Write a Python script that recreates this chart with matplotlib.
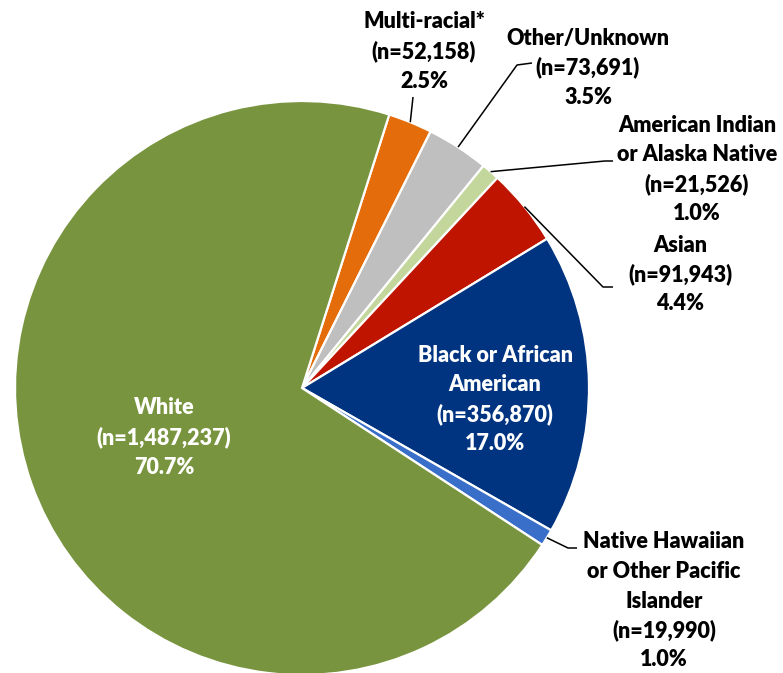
import numpy as np
import matplotlib.pyplot as plt

categories = ["Multi-racial*", "Other/Unknown", "American Indian\nor Alaska Native",
              "Asian", "Black or African\nAmerican", "Native Hawaiian\nor Other Pacific\nIslander",
              "White"]
counts = [52158, 73691, 21526, 91943, 356870, 19990, 1487237]
colors = ["#E46C0A", "#BFBFBF", "#C3D69B", "#BE1400", "#003380", "#3A6FC9", "#78943E"]

W, H = 783, 673
cx, cy, R = 302, 388, 287          # pie centre / radius in pixels (y from top)

# label block: (x centre, first line y, text colour) in pixels
label_pos = [(424, 22, "black"), (588, 38, "black"), (697, 125, "black"),
             (680, 245, "black"), (495, 355, "white"), (664, 542, "black"),
             (164, 408, "white")]
# leader lines: elbow points after the wedge edge (pixels), None = no line
leaders = [[(413, 97)], [(517, 65), (532, 63)], [(605, 161), (613, 161)],
           [(603, 287), (613, 287)], None, [(568, 548), (577, 548)], None]

plt.rcParams["font.family"] = ["Lato", "DejaVu Sans"]

fig = plt.figure(figsize=(W / 100, H / 100), dpi=100)
ax = fig.add_axes([0, 0, 1, 1])

total = sum(counts)
startangle = 90 - 17.7
wedges, _ = ax.pie(counts, colors=colors, startangle=startangle, counterclock=False,
                   center=(cx, H - cy), radius=R,
                   wedgeprops=dict(edgecolor="white", linewidth=1.6))
ax.set_xlim(0, W)
ax.set_ylim(0, H)
ax.set_aspect("equal")
ax.axis("off")

step = 29.5
for i, (cat, n) in enumerate(zip(categories, counts)):
    pct = n / total * 100
    lines = cat.split("\n") + [f"(n={n:,})", f"{pct:.1f}%"]
    x, y0, col = label_pos[i]
    for j, line in enumerate(lines):
        ax.text(x, H - (y0 + j * step), line, ha="center", va="center",
                fontsize=15.5, fontweight="heavy", color=col)
    if leaders[i] is not None:
        w = wedges[i]
        mid = np.deg2rad((w.theta1 + w.theta2) / 2)
        sx = cx + R * np.cos(mid)
        sy = (H - cy) + R * np.sin(mid)
        xs = [sx] + [p[0] for p in leaders[i]]
        ys = [sy] + [H - p[1] for p in leaders[i]]
        ax.plot(xs, ys, color="black", linewidth=1.1, solid_capstyle="butt")

fig.savefig("out.png", dpi=100)
